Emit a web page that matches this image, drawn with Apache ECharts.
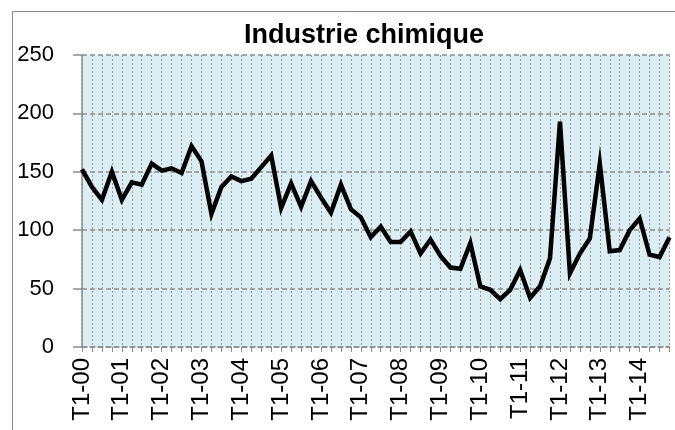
<!DOCTYPE html>
<html>
<head>
<meta charset="utf-8">
<script src="https://cdn.jsdelivr.net/npm/echarts@6/dist/echarts.min.js"></script>
<style>
html,body{margin:0;padding:0;background:#fff;}
#chart{width:675px;height:430px;}
</style>
</head>
<body>
<div id="chart"></div>
<script>
var titleText = 'Industrie chimique';
var quarters = ['T1', 'T2', 'T3', 'T4'];
var years = ['00','01','02','03','04','05','06','07','08','09','10','11','12','13','14'];
var values = [
  152, 137, 126, 150, 126, 141, 139, 157, 151, 153, 149, 172,
  159, 114, 137, 146, 142, 144, 154, 164, 119, 140, 120, 142,
  128, 115, 139, 118, 111, 94, 103, 90, 90, 99, 80, 92,
  78, 68, 67, 89, 52, 49, 41, 49, 66, 42, 52, 76,
  193, 63, 80, 93, 157, 82, 83, 100, 110, 79, 77, 94
];
var yTicks = {min: 0, max: 250, interval: 50};

var categories = [];
years.forEach(function (y) {
  quarters.forEach(function (q) { categories.push(q + '-' + y); });
});

var chart = echarts.init(document.getElementById('chart'), null, {renderer: 'canvas'});
chart.setOption({
  animation: false,
  backgroundColor: '#ffffff',
  graphic: [{
    type: 'rect',
    shape: {x: 12.5, y: 11.5, width: 720, height: 500},
    style: {fill: null, stroke: '#8c8c8c', lineWidth: 1},
    silent: true
  }],
  title: {
    text: titleText,
    left: 359,
    top: 17,
    textAlign: 'center',
    textStyle: {fontFamily: 'Liberation Sans', fontWeight: 'bold', fontSize: 27, color: '#000'}
  },
  grid: {
    left: 82, right: 5.5, top: 55, bottom: 83,
    show: true, backgroundColor: '#daeef3', borderWidth: 0
  },
  xAxis: {
    type: 'category',
    data: categories,
    boundaryGap: false,
    axisLine: {show: true, lineStyle: {color: '#8c8c8c', width: 1.5, type: [5, 3]}},
    axisTick: {show: true, interval: 0, length: 5, lineStyle: {color: '#8c8c8c', width: 1}},
    axisLabel: {
      interval: 3, rotate: 90, margin: 11,
      fontFamily: 'Liberation Sans', fontSize: 24, color: '#000'
    },
    splitLine: {show: true, interval: 0, lineStyle: {color: '#9a9a9a', width: 1, type: [2, 2]}}
  },
  yAxis: {
    type: 'value',
    min: yTicks.min, max: yTicks.max, interval: yTicks.interval,
    axisLine: {show: true, lineStyle: {color: '#8c8c8c', width: 1.5}},
    axisTick: {show: true, length: 9, lineStyle: {color: '#8c8c8c', width: 1.5}},
    axisLabel: {margin: 28, fontFamily: 'Liberation Sans', fontSize: 22, color: '#000'},
    splitLine: {show: true, lineStyle: {color: '#8c8c8c', width: 1.5, type: [5, 3]}}
  },
  series: [{
    type: 'line',
    data: values,
    symbol: 'none',
    lineStyle: {color: '#000', width: 4.5, join: 'miter'},
    z: 5
  }]
});
</script>
</body>
</html>
